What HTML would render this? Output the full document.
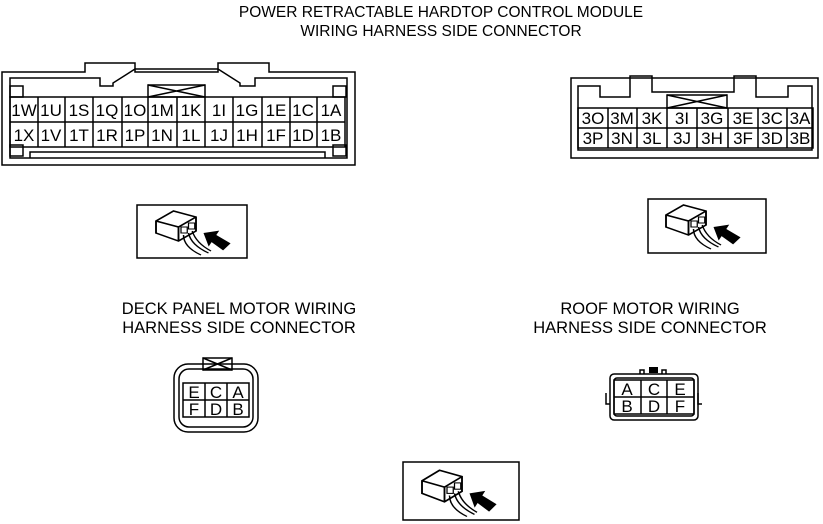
<!DOCTYPE html>
<html><head><meta charset="utf-8"><style>
body{margin:0;background:#fff}
svg{display:block;font-family:"Liberation Sans",sans-serif}
text{fill:#000}
.t{font-size:15.5px;text-anchor:middle}
.s{font-size:16.5px;text-anchor:middle}
.c{font-size:17px;text-anchor:middle}
</style></head><body>
<svg width="823" height="524" viewBox="0 0 823 524" xmlns="http://www.w3.org/2000/svg">
<defs>
<g id="icon">
  <path d="M0,16 L14,6 L32,12 L32,26 L18,36 L0,28 Z M0,16 L18,22 L32,12 M18,22 L18,36" fill="#fff" stroke="#000" stroke-width="1.5"/>
  <rect x="20" y="22" width="5" height="6" fill="none" stroke="#000"/>
  <rect x="26" y="18" width="5" height="6" fill="none" stroke="#000"/>
  <path d="M22,30 Q22,42 36,50 M26,28 Q28,40 42,48 M29,26 Q32,38 44,46" fill="none" stroke="#000" stroke-width="1.2"/>
  <path d="M38,28 L48,20 L48,25 L62,27 L60,36 L48,33 L48,38 Z" fill="#000" transform="rotate(28 38 28)"/>
</g>
</defs>
<g fill="none" stroke="#000" stroke-width="1.5">
<path d="M2,72 L85,72 L85,63 L135,63 L135,72 L218,72 L218,63 L269,63 L269,72 L355,72 L355,165 L2,165 Z"/>
<path d="M10,78 L100,78 L100,86 L113,86 L113,83 L135,69 L218,69 L240,83 L240,86 L255,86 L255,78 L347,78 L347,158 L10,158 Z"/>
<rect x="10" y="86" width="13" height="11"/><rect x="333" y="86" width="13" height="11"/>
<rect x="10" y="145" width="13" height="11"/><rect x="333" y="145" width="13" height="11"/>
<path d="M30,158 L30,152 L325,152 L325,158"/>
<rect x="148" y="85" width="57" height="12"/><path d="M148,85 L205,97 M205,85 L148,97"/>
<rect x="10" y="97" width="335" height="50"/>
<path d="M10,122 H345 M38,97V147 M65,97V147 M93,97V147 M122,97V147 M148,97V147 M177,97V147 M205,97V147 M233,97V147 M262,97V147 M290,97V147 M317,97V147"/>
<rect x="571" y="78" width="247" height="80"/>
<path d="M578,86 L600,86 L600,97 L630,97 L630,76 L652,76 L652,92 L734,92 L734,76 L756,76 L756,97 L788,97 L788,86 L812,86 L812,150 L578,150 Z"/>
<rect x="667" y="95" width="60" height="13"/><path d="M667,95 L727,108 M727,95 L667,108"/>
<rect x="578" y="108" width="235" height="40"/>
<path d="M578,128 H813 M608,108V148 M637,108V148 M667,108V148 M697,108V148 M728,108V148 M758,108V148 M787,108V148"/>
<rect x="137" y="205" width="110" height="53"/>
<rect x="648" y="199" width="118" height="54"/>
<rect x="403" y="462" width="116" height="58"/>
<rect x="174" y="364" width="84" height="68" rx="14"/>
<rect x="179" y="369" width="74" height="58" rx="10"/>
<rect x="203" y="358" width="29" height="12"/><path d="M203,358 L232,370 M232,358 L203,370"/>
<rect x="183" y="383" width="66" height="34"/>
<path d="M183,400 H249 M205,383V417 M227,383V417"/>
<rect x="610" y="374" width="88" height="46" rx="4"/>
<rect x="614" y="378" width="80" height="38" rx="3"/>
<rect x="614" y="380" width="80" height="34"/>
<path d="M614,397 H694 M641,380V414 M667,380V414"/>
<path d="M640,374 V370 H644 V374 M662,374 V370 H666 V374 M606,393 V404 H610 M698,393 V404 H702"/>
</g>
<rect x="649" y="367" width="9" height="6" fill="#000"/>
<use href="#icon" transform="translate(156,205) scale(1.25,1.0)"/>
<use href="#icon" transform="translate(666,199) scale(1.25,1.0)"/>
<use href="#icon" transform="translate(422,464) scale(1.25,1.05)"/>
<text x="441" y="17" class="t">POWER RETRACTABLE HARDTOP CONTROL MODULE</text>
<text x="441" y="36" class="t">WIRING HARNESS SIDE CONNECTOR</text>
<text x="239" y="314" class="s">DECK PANEL MOTOR WIRING</text>
<text x="239" y="333" class="s">HARNESS SIDE CONNECTOR</text>
<text x="650" y="314" class="s">ROOF MOTOR WIRING</text>
<text x="650" y="333" class="s">HARNESS SIDE CONNECTOR</text>
<g>
<text x="24" y="116" class="c">1W</text><text x="51" y="116" class="c">1U</text><text x="79" y="116" class="c">1S</text><text x="107" y="116" class="c">1Q</text><text x="135" y="116" class="c">1O</text><text x="162" y="116" class="c">1M</text><text x="191" y="116" class="c">1K</text><text x="219" y="116" class="c">1I</text><text x="247" y="116" class="c">1G</text><text x="276" y="116" class="c">1E</text><text x="303" y="116" class="c">1C</text><text x="331" y="116" class="c">1A</text>
<text x="24" y="141" class="c">1X</text><text x="51" y="141" class="c">1V</text><text x="79" y="141" class="c">1T</text><text x="107" y="141" class="c">1R</text><text x="135" y="141" class="c">1P</text><text x="162" y="141" class="c">1N</text><text x="191" y="141" class="c">1L</text><text x="219" y="141" class="c">1J</text><text x="247" y="141" class="c">1H</text><text x="276" y="141" class="c">1F</text><text x="303" y="141" class="c">1D</text><text x="331" y="141" class="c">1B</text>
<text x="593" y="124" class="c">3O</text><text x="622" y="124" class="c">3M</text><text x="652" y="124" class="c">3K</text><text x="682" y="124" class="c">3I</text><text x="712" y="124" class="c">3G</text><text x="743" y="124" class="c">3E</text><text x="772" y="124" class="c">3C</text><text x="800" y="124" class="c">3A</text>
<text x="593" y="144" class="c">3P</text><text x="622" y="144" class="c">3N</text><text x="652" y="144" class="c">3L</text><text x="682" y="144" class="c">3J</text><text x="712" y="144" class="c">3H</text><text x="743" y="144" class="c">3F</text><text x="772" y="144" class="c">3D</text><text x="800" y="144" class="c">3B</text>
<text x="194" y="398" class="c">E</text><text x="216" y="398" class="c">C</text><text x="238" y="398" class="c">A</text>
<text x="194" y="415" class="c">F</text><text x="216" y="415" class="c">D</text><text x="238" y="415" class="c">B</text>
<text x="627" y="395" class="c">A</text><text x="654" y="395" class="c">C</text><text x="680" y="395" class="c">E</text>
<text x="627" y="412" class="c">B</text><text x="654" y="412" class="c">D</text><text x="680" y="412" class="c">F</text>
</g>
</svg>
</body></html>
